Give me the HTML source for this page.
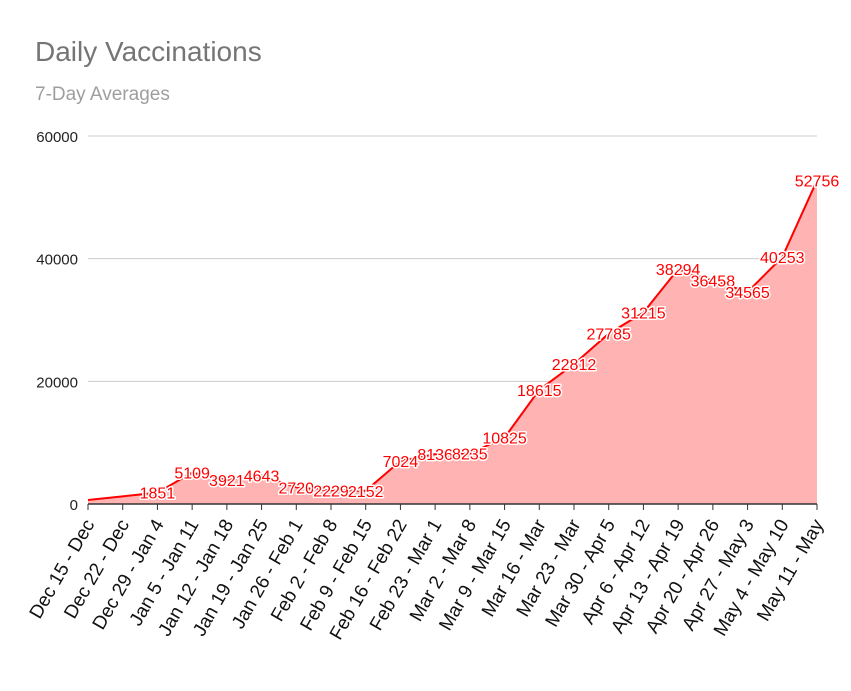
<!DOCTYPE html>
<html><head><meta charset="utf-8"><style>
body{margin:0;background:#fff;}
svg text{font-family:"Liberation Sans",Arial,sans-serif;}
</style></head><body>
<svg id="chart" width="851" height="686" xmlns="http://www.w3.org/2000/svg">
<rect width="851" height="686" fill="#fff"/>
<text x="35" y="61" font-size="28" fill="#757575">Daily Vaccinations</text>
<text x="35" y="100" font-size="19" fill="#9e9e9e">7-Day Averages</text>
<g id="grid"></g><g id="area"></g><g id="labels"></g><g id="xaxis"></g>
</svg>
<script>
const categories=["Dec 15 - Dec","Dec 22 - Dec","Dec 29 - Jan 4","Jan 5 - Jan 11","Jan 12 - Jan 18","Jan 19 - Jan 25","Jan 26 - Feb 1","Feb 2 - Feb 8","Feb 9 - Feb 15","Feb 16 - Feb 22","Feb 23 - Mar 1","Mar 2 - Mar 8","Mar 9 - Mar 15","Mar 16 - Mar","Mar 23 - Mar","Mar 30 - Apr 5","Apr 6 - Apr 12","Apr 13 - Apr 19","Apr 20 - Apr 26","Apr 27 - May 3","May 4 - May 10","May 11 - May"];
const values=[650,1250,1851,5109,3921,4643,2720,2229,2152,7024,8136,8235,10825,18615,22812,27785,31215,38294,36458,34565,40253,52756];
const showLabel=[false,false,true,true,true,true,true,true,true,true,true,true,true,true,true,true,true,true,true,true,true,true];
const yTicks=[0,20000,40000,60000];
const NS="http://www.w3.org/2000/svg";
const x0=88,x1=817,yTop=136,yBot=504,yMax=60000;
const xs=i=>x0+i*(x1-x0)/(categories.length-1);
const ys=v=>yBot-v/yMax*(yBot-yTop);
function mk(t,a,p){const e=document.createElementNS(NS,t);for(const k in a)e.setAttribute(k,a[k]);p.appendChild(e);return e;}
const grid=document.getElementById('grid');
yTicks.forEach(t=>{
 const l=mk('line',{x1:x0,x2:x1,y1:ys(t),y2:ys(t),stroke:t===0?'#333':'#ccc','stroke-width':1},grid);
 
 
 const tx=mk('text',{x:78,y:ys(t)+6,'text-anchor':'end','font-size':15,fill:'#222'},grid);
 tx.textContent=t;
 
 
});
const area=document.getElementById('area');
let pts=values.map((v,i)=>xs(i)+','+ys(v)).join(' ');
const poly=mk('polygon',{points:x0+','+yBot+' '+pts+' '+x1+','+yBot,fill:'#ffb3b3'},area);


const line=mk('polyline',{points:pts,fill:'none',stroke:'#f00','stroke-width':2},area);


const base=mk('line',{x1:x0,x2:x1,y1:yBot,y2:yBot,stroke:'#333','stroke-width':1.5},area);


const lab=document.getElementById('labels');
values.forEach((v,i)=>{
 if(!showLabel[i])return;
 const t=mk('text',{x:xs(i),y:ys(v)+6,'text-anchor':'middle','font-size':16,fill:'#f00',stroke:'#fff','stroke-width':3,'paint-order':'stroke','stroke-linejoin':'round'},lab);
 t.textContent=v;
 
 
});
const xa=document.getElementById('xaxis');
categories.forEach((c,i)=>{
 const tk=mk('line',{x1:xs(i),x2:xs(i),y1:yBot,y2:yBot+6,stroke:'#333'},xa);
 
 
 const ax=xs(i)+7,ay=yBot+20;
 const t=mk('text',{x:ax,y:ay,'text-anchor':'end','font-size':19,fill:'#111',transform:'rotate(-60 '+ax+' '+ay+')'},xa);
 t.textContent=c;
 
 
});
</script>
</body></html>
